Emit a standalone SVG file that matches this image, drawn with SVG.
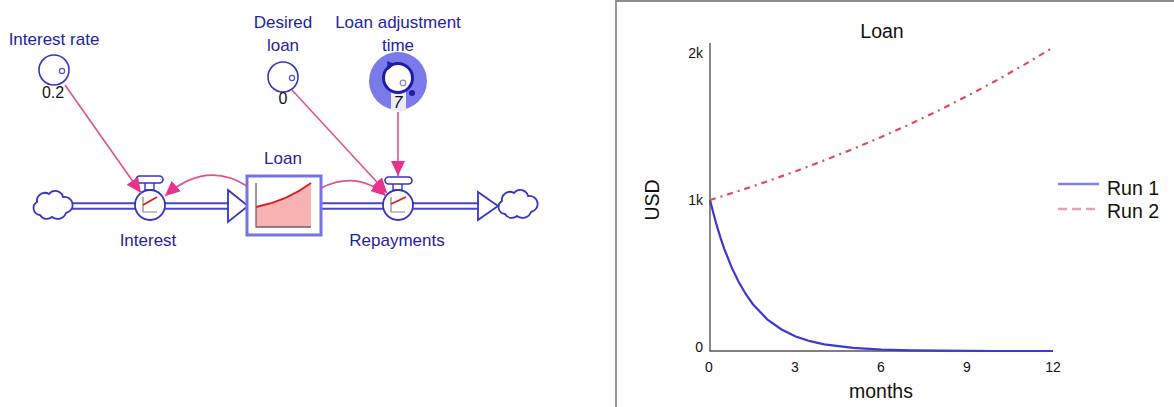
<svg xmlns="http://www.w3.org/2000/svg" width="1174" height="407" viewBox="0 0 1174 407">
<style>
.lbl{font-family:"Liberation Sans",Arial,sans-serif;font-size:17px;fill:#2323a3;text-anchor:middle}
.val{font-family:"Liberation Sans",Arial,sans-serif;font-size:16px;fill:#111;text-anchor:middle}
.ctxt{font-family:"Liberation Sans",Arial,sans-serif;font-size:19.5px;fill:#111}
.tick{font-family:"Liberation Sans",Arial,sans-serif;font-size:14px;fill:#111}
.aux{fill:#fff;stroke:#3434c4;stroke-width:1.6}
.pipeo{stroke:#4646d2;stroke-width:7.5;fill:none}
.pipei{stroke:#fff;stroke-width:3.5;fill:none}
.valve{fill:#fff;stroke:#3434c4;stroke-width:1.8}
.cloud{fill:#fff;stroke:#3434c4;stroke-width:1.8}
.link{fill:none;stroke:#e0508e;stroke-width:1.6}
.icoax{fill:none;stroke:#888;stroke-width:1.2}
.icored{fill:none;stroke:#d42020;stroke-width:1.8}
</style>
<defs>
<marker id="ah" markerUnits="userSpaceOnUse" markerWidth="16" markerHeight="14" viewBox="0 0 16 14" refX="15" refY="7" orient="auto">
<path d="M0,0 L15,7 L0,14 z" fill="#e8338c"/>
</marker>
<path id="cloudshape" d="M-12,10 A7,7 0 0 1 -15,-3 A8,8 0 0 1 -3,-11 A8,8 0 0 1 11,-8 A7,7 0 0 1 14,8 A9,9 0 0 1 0,12 A8,8 0 0 1 -12,10 Z"/>
</defs>
<rect width="1174" height="407" fill="#fff"/>

<g id="flows">
<line class="pipeo" x1="68" y1="206" x2="232" y2="206"/>
<line class="pipei" x1="68" y1="206" x2="232" y2="206"/>
<line class="pipeo" x1="318" y1="206" x2="482" y2="206"/>
<line class="pipei" x1="318" y1="206" x2="482" y2="206"/>
<path d="M228,190 L248,206 L228,222 Z" fill="#fff" stroke="#3434c4" stroke-width="1.8"/>
<path d="M478,192 L498,206 L478,220 Z" fill="#fff" stroke="#3434c4" stroke-width="1.8"/>
</g>

<g id="cloud-source"><use href="#cloudshape" class="cloud" transform="translate(52,205)"/></g>
<g id="cloud-sink"><use href="#cloudshape" class="cloud" transform="translate(517,204)"/></g>

<g id="node-loan">
<rect x="247" y="176" width="74" height="59" fill="#fff" stroke="#7474e6" stroke-width="3"/>
<path d="M256,207 Q287,201 311,183 L311,227 L256,227 Z" fill="#f9b2b2"/>
<path d="M256,207 Q287,201 311,183" class="icored"/>
<path d="M256,183 L256,227 L311,227" fill="none" stroke="#666" stroke-width="1.3"/>
<text class="lbl" x="283" y="164">Loan</text>
</g>

<g id="node-interest">
<rect x="145" y="182" width="9" height="8" fill="#fff" stroke="#3434c4" stroke-width="1.4"/>
<rect x="136" y="176" width="27" height="7" rx="3.5" fill="#fff" stroke="#3434c4" stroke-width="1.6"/>
<circle class="valve" cx="150" cy="205" r="15"/>
<path class="icoax" d="M143,197 L143,212 L157,212"/>
<path class="icored" d="M143,205 L157,197"/>
<text class="lbl" x="148" y="246">Interest</text>
</g>

<g id="node-repayments">
<rect x="393" y="182" width="9" height="8" fill="#fff" stroke="#3434c4" stroke-width="1.4"/>
<rect x="385" y="177" width="27" height="7" rx="3.5" fill="#fff" stroke="#3434c4" stroke-width="1.6"/>
<circle class="valve" cx="398" cy="205" r="15"/>
<path class="icoax" d="M391,197 L391,212 L405,212"/>
<path class="icored" d="M391,204 L406,197"/>
<text class="lbl" x="397" y="246">Repayments</text>
</g>

<g id="node-interest-rate">
<text class="lbl" x="54" y="45">Interest rate</text>
<circle class="aux" cx="54" cy="70" r="15"/>
<circle cx="62" cy="71" r="2.6" fill="#fff" stroke="#5050d0" stroke-width="1.2"/>
<text class="val" x="53" y="98">0.2</text>
</g>

<g id="node-desired-loan">
<text class="lbl" x="283" y="28">Desired</text>
<text class="lbl" x="283" y="51">loan</text>
<circle class="aux" cx="283" cy="77" r="15"/>
<circle cx="292" cy="78" r="2.6" fill="#fff" stroke="#5050d0" stroke-width="1.2"/>
<text class="val" x="283" y="104">0</text>
</g>

<g id="node-loan-adjustment-time">
<text class="lbl" x="398" y="28">Loan adjustment</text>
<text class="lbl" x="398" y="51">time</text>
<circle cx="398" cy="81" r="29" fill="#7a7aec"/>
<rect x="391" y="90" width="15" height="21" fill="#ececf8"/>
<circle cx="398" cy="78" r="14.5" fill="#fff" stroke="#1e1ea6" stroke-width="3"/>
<path d="M387,61 L395,64 L388,70 Z" fill="#1e1ea6"/>
<circle cx="403" cy="83" r="2.8" fill="#fff" stroke="#8a8ad0" stroke-width="1.2"/>
<circle cx="412" cy="93" r="3" fill="#1e1ea6"/>
<text class="val" x="398" y="108" font-style="italic">7</text>
</g>

<g id="connectors">
<path class="link" d="M65,85 L141,193" marker-end="url(#ah)"/>
<path class="link" d="M247,186 Q206,160 165,196" marker-end="url(#ah)"/>
<path class="link" d="M292,90 L387,193" marker-end="url(#ah)"/>
<path class="link" d="M321,188 Q358,170 386,196" marker-end="url(#ah)"/>
<path class="link" d="M398,112 L398,176" marker-end="url(#ah)"/>
</g>

<g id="chart">
<path d="M616,407 L616,1 L1174,1" fill="none" stroke="#8c8c8c" stroke-width="1.8"/>
<text class="ctxt" x="882" y="38" text-anchor="middle">Loan</text>
<path d="M710,43 L710,351 L1053,351" fill="none" stroke="#555" stroke-width="1.4"/>
<text class="tick" x="703" y="58" text-anchor="end">2k</text>
<text class="tick" x="703" y="205" text-anchor="end">1k</text>
<text class="tick" x="703" y="352" text-anchor="end">0</text>
<text class="tick" x="709" y="372" text-anchor="middle">0</text>
<text class="tick" x="795" y="372" text-anchor="middle">3</text>
<text class="tick" x="881" y="372" text-anchor="middle">6</text>
<text class="tick" x="967" y="372" text-anchor="middle">9</text>
<text class="tick" x="1053" y="372" text-anchor="middle">12</text>
<text class="ctxt" x="881" y="398" text-anchor="middle">months</text>
<text class="ctxt" transform="translate(659,200) rotate(-90)" text-anchor="middle">USD</text>
<polyline fill="none" stroke="#3a3ad2" stroke-width="2.2" points="710,200 713.6,214 717.1,226.7 720.7,238.3 724.3,248.8 731.4,266.9 738.6,281.8 745.7,294 752.9,304.2 767.2,319.3 781.5,329.5 795.7,336.5 810,341.2 824.3,344.3 852.9,347.9 881.5,349.6 910.1,350.4 938.6,350.7 995.8,351 1053,351"/>
<polyline fill="none" stroke="#e04a5c" stroke-width="2.2" stroke-dasharray="6 5 2 5" points="710,200 738.6,191 767.2,181.4 795.7,171.2 824.3,160.4 852.9,149 881.5,136.9 910.1,124.1 938.6,110.5 967.2,96 995.8,80.8 1024.4,64.6 1053,47.5"/>
<line x1="1058" y1="184" x2="1099" y2="184" stroke="#7f7fee" stroke-width="2.5"/>
<text class="ctxt" x="1107" y="195">Run 1</text>
<line x1="1058" y1="209" x2="1097" y2="209" stroke="#e8a0aa" stroke-width="2.5" stroke-dasharray="9 5"/>
<text class="ctxt" x="1107" y="218">Run 2</text>
</g>
</svg>
